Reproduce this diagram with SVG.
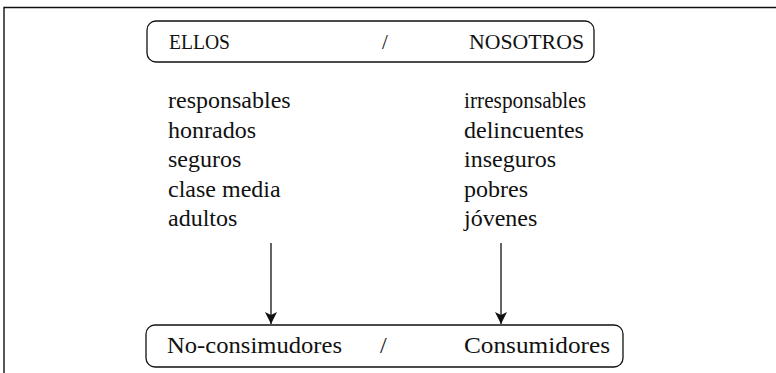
<svg xmlns="http://www.w3.org/2000/svg" width="776" height="373" viewBox="0 0 776 373">
<style>
text{font-family:"Liberation Serif","DejaVu Serif",serif;fill:#111;}
.h{font-size:21px;}
.t{font-size:24px;}
.box{fill:#fff;stroke:#111;stroke-width:1.3;}
.conn{stroke:#111;stroke-width:1.3;fill:none;}
</style>
<defs>
<marker id="ah" viewBox="0 0 12 12" refX="12" refY="6" markerWidth="12" markerHeight="12" markerUnits="userSpaceOnUse" orient="auto">
<path d="M0,0 L12,6 L0,12 L3,6 Z" fill="#111"/>
</marker>
</defs>
<rect width="776" height="373" fill="#fff"/>
<path d="M4,373 V7.5 H776" fill="none" stroke="#111" stroke-width="1.4"/>
<g id="top">
<rect class="box" x="147" y="21" width="447" height="41" rx="9"/>
<text class="h" x="169" y="49" textLength="61" lengthAdjust="spacingAndGlyphs">ELLOS</text>
<text class="h" x="382" y="49">/</text>
<text class="h" x="469" y="49" textLength="115" lengthAdjust="spacingAndGlyphs">NOSOTROS</text>
</g>
<g id="ellos-list">
<text class="t" x="168" y="108">responsables</text>
<text class="t" x="168" y="137.5">honrados</text>
<text class="t" x="168" y="167">seguros</text>
<text class="t" x="168" y="196.5">clase media</text>
<text class="t" x="168" y="226">adultos</text>
</g>
<g id="nosotros-list">
<text class="t" x="464" y="108" textLength="122" lengthAdjust="spacingAndGlyphs">irresponsables</text>
<text class="t" x="464" y="137.5">delincuentes</text>
<text class="t" x="464" y="167">inseguros</text>
<text class="t" x="464" y="196.5">pobres</text>
<text class="t" x="464" y="226">jóvenes</text>
</g>
<g id="bottom">
<rect class="box" x="146" y="325" width="477" height="42" rx="9"/>
<text class="t" x="167" y="353" textLength="175" lengthAdjust="spacingAndGlyphs">No-consimudores</text>
<text class="t" x="380" y="353">/</text>
<text class="t" x="464" y="353" textLength="146" lengthAdjust="spacingAndGlyphs">Consumidores</text>
</g>
<g id="connectors">
<line class="conn" x1="271" y1="243" x2="271" y2="324" marker-end="url(#ah)"/>
<line class="conn" x1="501" y1="243" x2="501" y2="324" marker-end="url(#ah)"/>
</g>
</svg>
